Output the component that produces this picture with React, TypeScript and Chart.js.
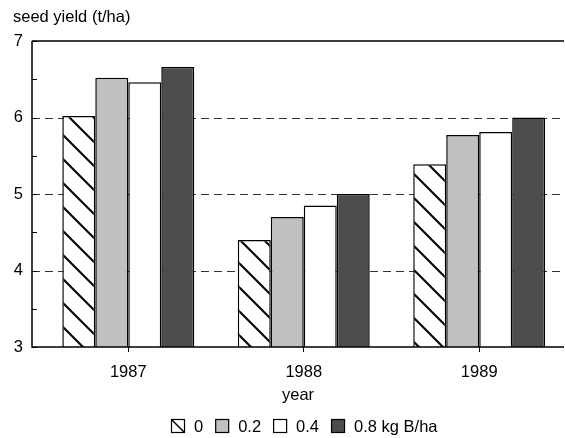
import React, { useEffect, useRef } from "react";
import { Chart, registerables } from "chart.js";

Chart.register(...registerables);

// ---- data ----
const years = ["1987", "1988", "1989"];
const seriesNames = ["0", "0.2", "0.4", "0.8 kg B/ha"];
const yield0 = [6.02, 4.4, 5.39];
const yield02 = [6.52, 4.7, 5.77];
const yield04 = [6.46, 4.85, 5.81];
const yield08 = [6.66, 5.0, 6.0];
const yTicks = [3, 4, 5, 6, 7];
const yGridValues = [4, 5, 6];
const yMinorTicks = [3.5, 4.5, 5.5, 6.5];
const yAxisTitle = "seed yield (t/ha)";
const xAxisTitle = "year";

const FONT_FAMILY = "'Liberation Sans', Arial, Helvetica, sans-serif";
const FONT_SIZE = 16.5;
const fillColors = ["hatch", "#c0c0c0", "#ffffff", "#4d4d4d"];

function makeHatch(ctx: CanvasRenderingContext2D, size = 24, lw = 2) {
  const c = document.createElement("canvas");
  c.width = size;
  c.height = size;
  const g = c.getContext("2d")!;
  g.fillStyle = "#ffffff";
  g.fillRect(0, 0, size, size);
  g.strokeStyle = "#000000";
  g.lineWidth = lw;
  for (const k of [-1, 0, 1]) {
    g.beginPath();
    g.moveTo(k * size - size, -size);
    g.lineTo(k * size + 2 * size, 2 * size);
    g.stroke();
  }
  return ctx.createPattern(c, "repeat")!;
}

const decorPlugin = {
  id: "decor",
  beforeDatasetsDraw(chart: any) {
    const { ctx, chartArea, scales } = chart;
    const { left, right } = chartArea;
    const y = scales.y;
    ctx.save();
    ctx.strokeStyle = "#333333";
    ctx.lineWidth = 1;
    ctx.setLineDash([8, 5]);
    for (const v of yGridValues) {
      const py = Math.round(y.getPixelForValue(v)) + 0.5;
      ctx.beginPath();
      ctx.moveTo(left, py);
      ctx.lineTo(right, py);
      ctx.stroke();
    }
    ctx.restore();
  },
  afterDatasetsDraw(chart: any) {
    const { ctx, chartArea, scales } = chart;
    const { left, right, top, bottom } = chartArea;
    const y = scales.y;
    ctx.save();
    ctx.strokeStyle = "#000000";
    ctx.lineWidth = 1.5;
    ctx.beginPath();
    ctx.moveTo(left, top);
    ctx.lineTo(right, top);
    ctx.moveTo(left, top);
    ctx.lineTo(left, bottom);
    ctx.lineTo(right, bottom);
    ctx.stroke();
    ctx.lineWidth = 1;
    for (const v of [...yTicks, ...yMinorTicks]) {
      const py = Math.round(y.getPixelForValue(v)) + 0.5;
      ctx.beginPath();
      ctx.moveTo(left, py);
      ctx.lineTo(left + 5, py);
      ctx.stroke();
    }

    // y-axis title (top-left)
    ctx.font = `${FONT_SIZE}px ${FONT_FAMILY}`;
    ctx.fillStyle = "#000000";
    ctx.textBaseline = "alphabetic";
    ctx.textAlign = "left";
    ctx.fillText(yAxisTitle, 13, 22);

    // legend
    const box = 13;
    const gapText = 10;
    const gapItem = 12;
    const widths = seriesNames.map((s) => ctx.measureText(s).width);
    const total =
      widths.reduce((a, w) => a + box + gapText + w, 0) + gapItem * (seriesNames.length - 1);
    let x = Math.round((left + right) / 2 + 6 - total / 2);
    const cy = 426;
    ctx.textBaseline = "middle";
    seriesNames.forEach((name, i) => {
      const bx = x + 0.5;
      const by = cy - box / 2;
      const fill = fillColors[i];
      ctx.fillStyle = fill === "hatch" ? "#ffffff" : fill;
      ctx.fillRect(bx, by, box, box);
      if (fill === "hatch") {
        ctx.lineWidth = 1.5;
        ctx.beginPath();
        ctx.moveTo(bx, by);
        ctx.lineTo(bx + box, by + box);
        ctx.stroke();
      }
      ctx.lineWidth = 1.2;
      ctx.strokeStyle = "#000000";
      ctx.strokeRect(bx, by, box, box);
      ctx.fillStyle = "#000000";
      ctx.fillText(name, x + box + gapText, cy + 1);
      x += box + gapText + widths[i] + gapItem;
    });
    ctx.restore();
  },
};

export default function App() {
  const canvasRef = useRef<HTMLCanvasElement | null>(null);

  useEffect(() => {
    const canvas = canvasRef.current;
    if (!canvas) return;
    const ctx = canvas.getContext("2d")!;
    const hatch = makeHatch(ctx);
    const seriesValues = [yield0, yield02, yield04, yield08];
    const font = { family: FONT_FAMILY, size: FONT_SIZE };

    const chart = new Chart(canvas, {
      type: "bar",
      data: {
        datasets: seriesValues.map((vals, si) => ({
          label: seriesNames[si],
          data: vals.map((v, i) => ({ x: i, y: v })),
          backgroundColor: fillColors[si] === "hatch" ? (hatch as any) : fillColors[si],
          borderColor: "#000000",
          borderWidth: 1.5,
          categoryPercentage: 0.752,
          barPercentage: 1,
        })),
      },
      options: {
        responsive: false,
        animation: false,
        devicePixelRatio: 1,
        layout: { padding: { top: 41, right: 1, bottom: 30, left: 0 } },
        plugins: {
          legend: { display: false },
          tooltip: { enabled: false },
          title: { display: false },
        },
        scales: {
          x: {
            type: "linear",
            offset: false,
            min: -0.5487,
            max: 2.4832,
            afterBuildTicks: (s: any) => {
              s.ticks = years.map((_, i) => ({ value: i }));
            },
            afterFit: (s: any) => {
              s.height = 61;
            },
            ticks: {
              font,
              color: "#000000",
              padding: 11,
              autoSkip: false,
              maxRotation: 0,
              callback: (v: any) => years[Math.round(Number(v))] ?? "",
            },
            grid: {
              display: true,
              offset: false,
              drawOnChartArea: false,
              drawTicks: true,
              tickLength: 5,
              color: "#000000",
              lineWidth: 1,
            },
            border: { display: false },
            title: {
              display: true,
              text: xAxisTitle,
              font,
              color: "#000000",
              padding: { top: 0, bottom: 3 },
            },
          },
          y: {
            type: "linear",
            min: 3,
            max: 7,
            afterBuildTicks: (s: any) => {
              s.ticks = yTicks.map((v) => ({ value: v }));
            },
            afterFit: (s: any) => {
              s.width = 32;
            },
            ticks: { font, color: "#000000", padding: 9 },
            grid: { display: false, drawTicks: false },
            border: { display: false },
          },
        },
      } as any,
      plugins: [decorPlugin],
    });
    return () => chart.destroy();
  }, []);

  return (
    <div style={{ position: "fixed", left: 0, top: 0, width: 565, height: 438, background: "#ffffff" }}>
      <canvas ref={canvasRef} width={565} height={438} />
    </div>
  );
}
